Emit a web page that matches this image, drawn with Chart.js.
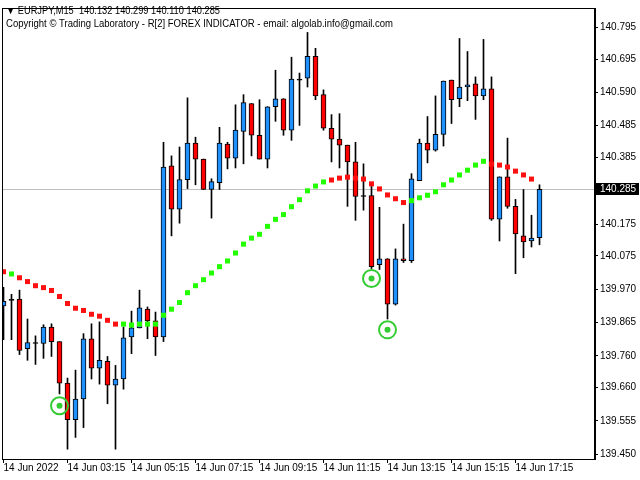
<!DOCTYPE html>
<html>
<head>
<meta charset="utf-8">
<script src="https://cdn.jsdelivr.net/npm/chart.js@4.4.1/dist/chart.umd.min.js"></script>
<style>
  html, body { margin: 0; padding: 0; background: #fff; }
  canvas { display: block; }
</style>
</head>
<body>
<canvas id="chart" width="640" height="480"></canvas>
<script>
// EURJPY M15, one candle per 15 min, oldest first (bar 0 = 01:15)
const opens = [139.917, 139.935, 139.939, 139.783, 139.799, 139.799, 139.851, 139.805, 139.674, 139.559,
  139.624, 139.814, 139.721, 139.743, 139.668, 139.687, 139.820, 139.848, 139.907, 139.870,
  139.820, 140.359, 140.222, 140.315, 140.430, 140.380, 140.284, 140.306, 140.427, 140.383,
  140.467, 140.555, 140.455, 140.380, 140.545, 140.570, 140.471, 140.629, 140.635, 140.704,
  140.583, 140.477, 140.443, 140.424, 140.371, 140.262, 140.265, 140.047, 140.066, 139.923,
  140.066, 140.060, 140.312, 140.430, 140.408, 140.458, 140.629, 140.570, 140.607, 140.617,
  140.579, 140.601, 140.191, 140.324, 140.231, 140.138, 140.122, 140.132];
const highs = [139.976, 139.954, 139.967, 139.876, 139.823, 139.858, 139.861, 139.805, 139.690, 139.715,
  139.830, 139.861, 139.867, 139.758, 139.730, 139.851, 139.901, 139.967, 139.914, 139.898,
  140.433, 140.390, 140.418, 140.573, 140.449, 140.380, 140.318, 140.480, 140.433, 140.551,
  140.583, 140.555, 140.567, 140.545, 140.660, 140.570, 140.701, 140.651, 140.779, 140.729,
  140.598, 140.520, 140.523, 140.424, 140.433, 140.365, 140.296, 140.228, 140.066, 140.097,
  140.175, 140.334, 140.443, 140.514, 140.579, 140.626, 140.629, 140.760, 140.719, 140.639,
  140.757, 140.639, 140.324, 140.446, 140.253, 140.284, 140.203, 140.299];
const lows = [139.811, 139.811, 139.764, 139.746, 139.733, 139.752, 139.758, 139.640, 139.466, 139.503,
  139.534, 139.687, 139.671, 139.609, 139.466, 139.655, 139.767, 139.848, 139.814, 139.761,
  139.805, 140.138, 140.178, 140.287, 140.299, 140.284, 140.194, 140.284, 140.349, 140.352,
  140.365, 140.390, 140.380, 140.352, 140.499, 140.455, 140.439, 140.486, 140.607, 140.567,
  140.471, 140.371, 140.352, 140.231, 140.187, 140.219, 140.035, 140.032, 139.876, 139.920,
  140.054, 140.054, 140.312, 140.368, 140.405, 140.421, 140.492, 140.545, 140.564, 140.505,
  140.567, 140.187, 140.122, 140.225, 140.019, 140.069, 140.103, 140.110];
const closes = [139.932, 139.935, 139.777, 139.802, 139.799, 139.851, 139.805, 139.674, 139.559, 139.624,
  139.814, 139.721, 139.746, 139.668, 139.687, 139.817, 139.848, 139.911, 139.870, 139.820,
  140.355, 140.222, 140.315, 140.430, 140.380, 140.284, 140.309, 140.430, 140.383, 140.471,
  140.558, 140.455, 140.380, 140.545, 140.570, 140.471, 140.632, 140.629, 140.704, 140.579,
  140.477, 140.443, 140.424, 140.371, 140.262, 140.262, 140.041, 140.066, 139.923, 140.066,
  140.060, 140.318, 140.430, 140.408, 140.458, 140.626, 140.567, 140.607, 140.614, 140.579,
  140.601, 140.191, 140.324, 140.231, 140.144, 140.119, 140.131, 140.285];

// R[2] indicator line (dots) and its direction per bar
const signal = [140.025, 140.018, 140.006, 139.994, 139.981, 139.975, 139.966, 139.947, 139.925, 139.910,
  139.903, 139.891, 139.885, 139.872, 139.860, 139.860, 139.857, 139.860, 139.860, 139.860,
  139.888, 139.907, 139.928, 139.959, 139.981, 140.000, 140.021, 140.041, 140.059, 140.084,
  140.112, 140.131, 140.143, 140.168, 140.190, 140.205, 140.230, 140.252, 140.280, 140.295,
  140.308, 140.314, 140.320, 140.323, 140.320, 140.317, 140.302, 140.286, 140.267, 140.255,
  140.243, 140.249, 140.258, 140.266, 140.277, 140.299, 140.314, 140.330, 140.345, 140.361,
  140.373, 140.364, 140.361, 140.355, 140.342, 140.330, 140.317, null];
const trend = ['dn', 'up', 'dn', 'dn', 'dn', 'dn', 'dn', 'dn', 'dn', 'dn',
  'dn', 'dn', 'dn', 'dn', 'dn', 'up', 'up', 'up', 'up', 'up',
  'up', 'up', 'up', 'up', 'up', 'up', 'up', 'up', 'up', 'up',
  'up', 'up', 'up', 'up', 'up', 'up', 'up', 'up', 'up', 'up',
  'up', 'dn', 'dn', 'dn', 'dn', 'dn', 'dn', 'dn', 'dn', 'dn',
  'dn', 'up', 'up', 'up', 'up', 'up', 'up', 'up', 'up', 'up',
  'up', 'dn', 'dn', 'dn', 'dn', 'dn', 'dn', null];

// buy signals (circled dots under lows)
const markerBars = [7, 46, 48];
const markerPrices = [139.603, 140.004, 139.842];

const priceTicks = [140.795, 140.695, 140.590, 140.485, 140.385, 140.175, 140.075,
  139.970, 139.865, 139.760, 139.660, 139.555, 139.450];
const timeTickBars = [0, 8, 16, 24, 32, 40, 48, 56, 64];
const timeTickLabels = ['14 Jun 2022', '14 Jun 03:15', '14 Jun 05:15', '14 Jun 07:15', '14 Jun 09:15',
  '14 Jun 11:15', '14 Jun 13:15', '14 Jun 15:15', '14 Jun 17:15'];

const symbolLine = '\u25BC EURJPY,M15  140.132 140.299 140.110 140.285';
const copyrightLine = 'Copyright \u00A9 Trading Laboratory - R[2] FOREX INDICATOR - email: algolab.info@gmail.com';
const lastPrice = 140.285;

const BLUE = '#1e90ff', RED = '#ff0000';
const DOT_UP = '#22ff00', DOT_DN = '#ff1010', RING = '#33cc33';
const FONT = 'Liberation Sans';

const bodies = opens.map((o, i) => ({ x: i, y: [o, closes[i]] }));
const wicks = lows.map((l, i) => ({ x: i, y: [l, highs[i]] }));
const dots = signal.map((v, i) => ({ x: i, y: v }));
const rings = markerBars.map((b, k) => ({ x: b, y: markerPrices[k] }));

// price line, header, frame, price box
const overlay = {
  id: 'overlay',
  beforeDatasetsDraw(chart) {
    const { ctx, chartArea: a, scales: { y } } = chart;
    ctx.save();
    const py = Math.round(y.getPixelForValue(lastPrice)) + 0.5;
    ctx.strokeStyle = '#c0c0c0';
    ctx.lineWidth = 1;
    ctx.beginPath();
    ctx.moveTo(a.left, py);
    ctx.lineTo(a.right, py);
    ctx.stroke();

    ctx.fillStyle = '#000';
    ctx.font = '10px "' + FONT + '"';
    ctx.textBaseline = 'middle';
    ctx.fillText(symbolLine, 6, 11, 214);
    ctx.fillText(copyrightLine, 6, 24, 387);
    ctx.restore();
  },
  afterDraw(chart) {
    const { ctx, chartArea: a, scales: { y } } = chart;
    ctx.save();
    ctx.strokeStyle = '#000';
    ctx.lineWidth = 1;
    ctx.strokeRect(a.left + 0.5, a.top + 0.5, a.right - a.left - 1, a.bottom - a.top);

    const py = Math.round(y.getPixelForValue(lastPrice));
    ctx.fillStyle = '#000';
    ctx.fillRect(a.right + 1, py - 6, 43, 12);
    ctx.fillStyle = '#fff';
    ctx.font = '10px "' + FONT + '"';
    ctx.textBaseline = 'middle';
    ctx.fillText(lastPrice.toFixed(3), a.right + 5, py + 0.5);
    ctx.restore();
  }
};

new Chart(document.getElementById('chart'), {
  data: {
    datasets: [
      {
        type: 'line', data: rings, showLine: false, order: 0,
        pointStyle: 'circle', pointRadius: 8.5, pointBorderWidth: 2,
        pointBorderColor: RING, pointBackgroundColor: 'rgba(0,0,0,0)'
      },
      {
        type: 'line', data: rings, showLine: false, order: 0,
        pointStyle: 'circle', pointRadius: 3, pointBorderWidth: 0,
        pointBackgroundColor: RING
      },
      {
        type: 'line', data: dots, showLine: false, order: 0,
        pointStyle: 'rect', pointRadius: 3.54, pointBorderWidth: 0,
        pointBackgroundColor: trend.map(t => t === 'up' ? DOT_UP : DOT_DN)
      },
      {
        type: 'bar', data: bodies, grouped: false, order: 1,
        barThickness: 5, minBarLength: 1, borderWidth: 1, borderSkipped: false,
        borderColor: '#000',
        backgroundColor: opens.map((o, i) => closes[i] > o ? BLUE : closes[i] < o ? RED : '#000')
      },
      {
        type: 'bar', data: wicks, grouped: false, order: 2,
        barThickness: 1, borderWidth: 0, backgroundColor: '#000'
      }
    ]
  },
  options: {
    responsive: false,
    animation: false,
    devicePixelRatio: 1,
    layout: { autoPadding: false, padding: { left: 2, top: 2, right: 0, bottom: 0 } },
    plugins: { legend: { display: false }, tooltip: { enabled: false } },
    scales: {
      x: {
        type: 'linear', min: -0.1875, max: 73.9375, offset: false,
        afterBuildTicks: s => { s.ticks = timeTickBars.map(v => ({ value: v })); },
        afterFit: s => { s.height = 21; s.paddingLeft = 0; s.paddingRight = 0; },
        grid: { offset: false, drawOnChartArea: false, drawTicks: true, tickLength: 4, color: '#000' },
        border: { display: true, color: '#000' },
        ticks: {
          align: 'start', maxRotation: 0, autoSkip: false, padding: -1, color: '#000',
          font: { family: FONT, size: 10 },
          callback: v => timeTickLabels[timeTickBars.indexOf(v)]
        }
      },
      y: {
        type: 'linear', position: 'right', min: 139.435, max: 140.856,
        afterBuildTicks: s => { s.ticks = priceTicks.map(v => ({ value: v })); },
        afterFit: s => { s.width = 45; },
        grid: { drawOnChartArea: false, drawTicks: true, tickLength: 3, color: '#000' },
        border: { display: true, color: '#000' },
        ticks: {
          padding: 2, color: '#000', font: { family: FONT, size: 10 },
          callback: v => v.toFixed(3)
        }
      }
    }
  },
  plugins: [overlay]
});
</script>
</body>
</html>
